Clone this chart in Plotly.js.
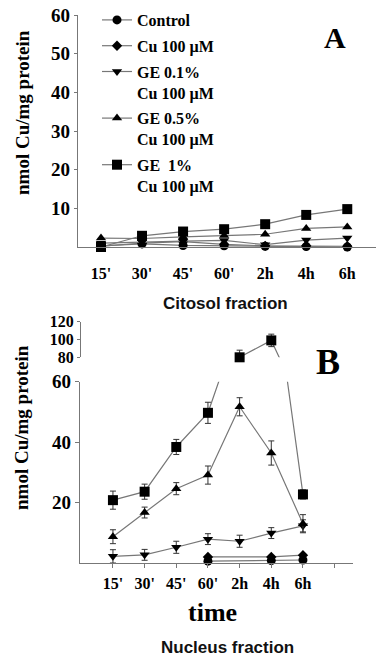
<!DOCTYPE html>
<html><head><meta charset="utf-8">
<script src="https://cdn.plot.ly/plotly-3.0.1.min.js"></script>
<style>html,body{margin:0;padding:0;background:#fff}#c{width:378px;height:659px}</style>
</head><body><div id="c"></div>
<script>
const times = ["15'", "30'", "45'", "60'", "2h", "4h", "6h"];
const seriesNames = ["Control", "Cu 100 µM", "GE 0.1%<br>Cu 100 µM", "GE 0.5%<br>Cu 100 µM", "GE  1%<br>Cu 100 µM"];
const symbols = ["circle", "diamond", "triangle-down", "triangle-up", "square"];

// Cytosol fraction (panel A)
const cytControl = [0.3, 0.8, 0.4, 0.3, 0.2, 0.1, 0];
const cytCu = [0.2, 1.0, 1.4, 0.7, 0.3, 0.3, 0.2];
const cytGE01 = [1.0, 1.3, 1.5, 1.7, 0.6, 1.8, 2.3];
const cytGE05 = [2.3, 2.2, 2.6, 3.0, 3.3, 4.8, 5.2];
const cytGE1 = [0, 2.9, 4.0, 4.6, 5.9, 8.3, 9.8];

// Nucleus fraction (panel B)
const nucControl = [null, null, null, 0.6, null, 0.8, 1.0];
const nucCu = [null, null, null, 2.0, null, 2.0, 2.6];
const nucGE01 = [2.2, 2.7, 5.2, 7.9, 7.2, 9.9, 12.3];
const nucGE05 = [8.7, 16.7, 24.6, 29.1, 51.7, 36.4, 13];
const nucGE1 = [20.8, 23.6, 38.4, 49.7, 80, 99, 22.7];

const errControl = [0, 0, 0, 0.5, 0, 0.5, 0.5];
const errCu = [0, 0, 0, 0.5, 0, 0.5, 0.5];
const errGE01 = [2.2, 1.8, 2.0, 1.8, 2.0, 1.8, 2.0];
const errGE05 = [2.3, 1.8, 2.0, 3.0, 3.0, 4.0, 3.0];
const errGE1 = [3.0, 2.5, 2.5, 3.5, 8, 7, 1.5];

const cyt = [cytControl, cytCu, cytGE01, cytGE05, cytGE1];
const nuc = [nucControl, nucCu, nucGE01, nucGE05, nucGE1];
const nucErr = [errControl, errCu, errGE01, errGE05, errGE1];

const xIdx = times.map((_, i) => i);
const sizes = [9, 8, 9, 9, 10];
const lineStyle = {color: '#777', width: 1.2};
const serif = "Liberation Serif, Times New Roman, serif";
const sans = "Liberation Sans, Arial, sans-serif";

const traces = [];
// Panel A
cyt.forEach((ys, i) => {
  traces.push({
    x: xIdx, y: ys, xaxis: 'x', yaxis: 'y', type: 'scatter', mode: 'lines+markers',
    name: seriesNames[i], legendgroup: 'g' + i,
    marker: {symbol: symbols[i], size: sizes[i], color: 'black'},
    line: lineStyle, cliponaxis: false, hoverinfo: 'skip'
  });
});
// Panel B: broken axis, lower (0-60) and upper (80-120)
const parts = [{ax: 'y2', lo: 0, hi: 60}, {ax: 'y3', lo: 80, hi: 120}];
nuc.forEach((ys, i) => {
  parts.forEach(p => {
    traces.push({
      x: xIdx, y: ys, xaxis: 'x2', yaxis: p.ax, type: 'scatter', mode: 'lines',
      connectgaps: true, showlegend: false, line: lineStyle, hoverinfo: 'skip'
    });
    const inRange = ys.map(v => (v !== null && v >= p.lo && v <= p.hi) ? v : null);
    traces.push({
      x: xIdx, y: inRange, xaxis: 'x2', yaxis: p.ax, type: 'scatter', mode: 'markers',
      showlegend: false, cliponaxis: false, hoverinfo: 'skip',
      marker: {symbol: symbols[i], size: sizes[i], color: 'black'},
      error_y: {type: 'data', array: nucErr[i], color: '#333', thickness: 1, width: 3}
    });
  });
});

const yTickFont = {family: serif, size: 19, color: '#000', weight: 'bold'};
const xTickFont = {family: serif, size: 16, color: '#000', weight: 'bold'};
function ann(text, px, py, font, extra) {
  return Object.assign({text: text, x: px / 378, y: 1 - py / 659, xref: 'paper', yref: 'paper',
    xanchor: 'center', yanchor: 'middle', showarrow: false, font: font}, extra || {});
}
const layout = {
  width: 378, height: 659,
  margin: {l: 0, r: 0, t: 0, b: 0},
  paper_bgcolor: 'white', plot_bgcolor: 'rgba(0,0,0,0)',
  showlegend: true,
  legend: {
    x: 97 / 378, y: 1 - 3 / 659, xanchor: 'left', yanchor: 'top',
    font: {family: serif, size: 16, color: '#000', weight: 'bold'},
    bgcolor: 'rgba(0,0,0,0)', tracegroupgap: 2, traceorder: 'grouped', valign: 'top'
  },
  xaxis: {
    domain: [78 / 378, 376 / 378], range: [-0.56, 6.7], anchor: 'y',
    tickvals: xIdx, ticktext: times, ticks: '', showgrid: false, zeroline: false,
    showline: true, linecolor: '#777', linewidth: 1.2, tickfont: xTickFont, ticklabelstandoff: 12
  },
  yaxis: {
    domain: [1 - 247 / 659, 1 - 15 / 659], range: [0, 60], anchor: 'x',
    tickvals: [10, 20, 30, 40, 50, 60], ticks: 'outside', ticklen: 3, tickcolor: '#777',
    showgrid: false, zeroline: false, showline: true, linecolor: '#777', linewidth: 1.2,
    tickfont: yTickFont
  },
  xaxis2: {
    domain: [80 / 378, 353 / 378], range: [-1.04, 7.58], anchor: 'y2',
    tickvals: [...xIdx, xIdx.length], ticktext: [...times, ''], ticks: 'outside', ticklen: 4,
    tickcolor: '#777', showgrid: false, zeroline: false, showline: true, linecolor: '#777',
    linewidth: 1.2, tickfont: xTickFont, ticklabelstandoff: 2
  },
  yaxis2: {
    domain: [1 - 563 / 659, 1 - 381.7 / 659], range: [0, 60], anchor: 'x2',
    tickvals: [20, 40, 60], ticks: 'outside', ticklen: 4, tickcolor: '#777',
    showgrid: false, zeroline: false, showline: true, linecolor: '#777', linewidth: 1.2,
    tickfont: yTickFont
  },
  yaxis3: {
    domain: [1 - 357.3 / 659, 1 - 321.7 / 659], range: [80, 120], anchor: 'free', position: 80 / 378,
    tickvals: [80, 100, 120], ticks: 'outside', ticklen: 3, tickcolor: '#777',
    showgrid: false, zeroline: false, showline: true, linecolor: '#777', linewidth: 1,
    tickfont: {family: serif, size: 16, color: '#000', weight: 'bold'}
  },
  annotations: [
    ann('A', 335, 37, {family: serif, size: 30, color: '#000', weight: 'bold'}),
    ann('B', 328, 362, {family: serif, size: 36, color: '#000', weight: 'bold'}),
    ann('nmol Cu/mg protein', 22, 113, {family: serif, size: 19, color: '#000', weight: 'bold'}, {textangle: -90}),
    ann('nmol Cu/mg protein', 22, 428, {family: serif, size: 19, color: '#000', weight: 'bold'}, {textangle: -90}),
    ann('Citosol fraction', 225, 304, {family: sans, size: 17, color: '#111', weight: 'bold'}),
    ann('time', 212, 612, {family: serif, size: 26, color: '#000', weight: 'bold'}),
    ann('Nucleus fraction', 227, 647, {family: sans, size: 17, color: '#111', weight: 'bold'})
  ]
};
Plotly.newPlot('c', traces, layout, {staticPlot: true, displayModeBar: false});
</script></body></html>
